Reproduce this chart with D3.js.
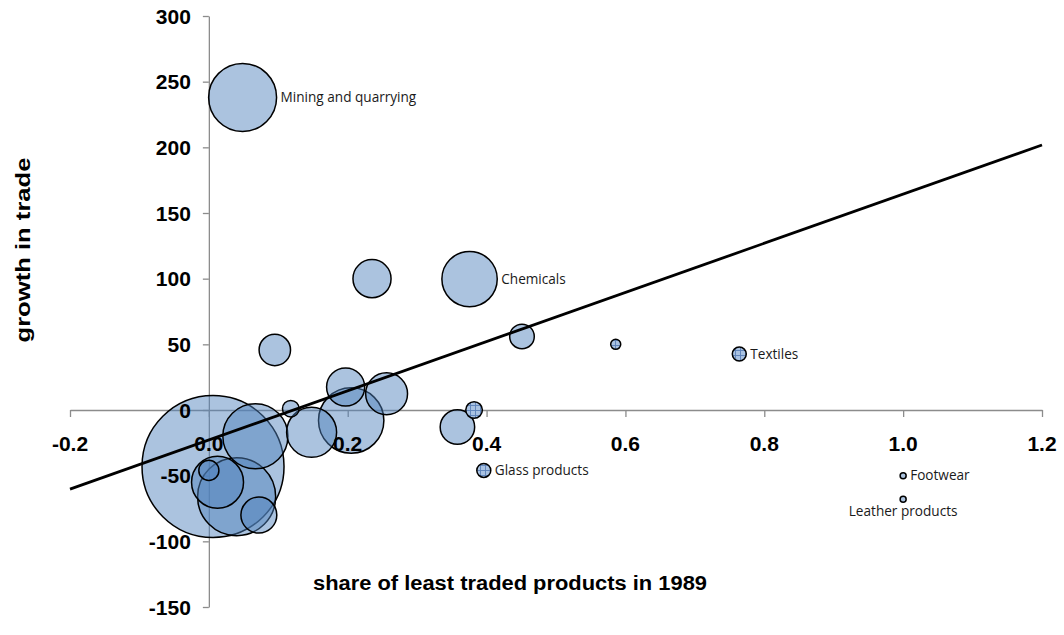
<!DOCTYPE html>
<html>
<head>
<meta charset="utf-8">
<script src="https://cdn.jsdelivr.net/npm/d3@7"></script>
<style>
  html, body { margin: 0; padding: 0; background: #fff; }
  svg { display: block; }
</style>
</head>
<body>
<svg id="chart" width="1064" height="635"></svg>
<script>
// ---- data ----
const shareX  = [0.0486, 0.235, 0.3755, 0.451, 0.586, 0.764, 0.095, 0.118, 0.197, 0.256, 0.205, 0.148, 0.382, 0.358, 0.396, 1.0, 1.0, 0.006, 0.067, 0.0, 0.0125, 0.040, 0.072];
const growthY = [238, 100, 99.7, 56, 50, 42.6, 45.7, 1, 17.5, 12.4, -8, -17, 0, -13, -46, -50, -68, -43, -20, -46, -55, -66, -80];
const sizes   = [22.9, 7.2, 15.2, 3.0, 0.5, 0.97, 4.9, 1.37, 7.2, 8.7, 21.2, 12.4, 1.37, 5.9, 0.97, 0.18, 0.18, 100, 21.0, 2.0, 13.4, 30.2, 6.4];
const hatched = [false, false, false, false, true, true, false, false, false, false, false, false, true, false, true, false, false, false, false, false, false, false, false];
const labels  = ["Mining and quarrying", "", "Chemicals", "", "", "Textiles", "", "", "", "", "", "", "", "", "Glass products", "Footwear", "Leather products", "", "", "", "", "", ""];
const labelPos = ["right", "", "right", "", "", "right", "", "", "", "", "", "", "", "", "right", "right", "below", "", "", "", "", "", ""];

const xTicks = [-0.2, 0.0, 0.2, 0.4, 0.6, 0.8, 1.0, 1.2];
const yTicks = [-150, -100, -50, 0, 50, 100, 150, 200, 250, 300];
const trendX = [-0.2, 1.2];
const trendY = [-60.2, 201.8];

const xTitle = "share of least traded products in 1989";
const yTitle = "growth in trade";

// ---- chart ----
const svg = d3.select("#chart");
const x = d3.scaleLinear().domain([-0.2, 1.2]).range([70, 1042]);
const y = d3.scaleLinear().domain([-150, 300]).range([607, 16]);
const r = d3.scaleSqrt().domain([0, 100]).range([0, 71]);

const defs = svg.append("defs");
const pat = defs.append("pattern")
  .attr("id", "hatch").attr("patternUnits", "userSpaceOnUse")
  .attr("width", 5).attr("height", 5);
pat.append("rect").attr("width", 5).attr("height", 5).attr("fill", "#a9c2e2");
pat.append("path").attr("d", "M0,0.5H5M0.5,0V5").attr("stroke", "#5b80b8").attr("stroke-width", 0.9);

// axes lines
const axisColor = "#8c8c8c";
const gx = svg.append("g").attr("transform", `translate(0,${y(0)})`)
  .call(d3.axisBottom(x).tickValues(xTicks).tickSize(7).tickSizeOuter(0).tickFormat(""));
gx.select(".domain").attr("stroke", axisColor).attr("stroke-width", 1.3);
gx.selectAll(".tick line").attr("stroke", axisColor).attr("stroke-width", 1.3);

const gy = svg.append("g").attr("transform", `translate(${x(0)},0)`)
  .call(d3.axisLeft(y).tickValues(yTicks).tickSize(6).tickSizeOuter(0).tickFormat(""));
gy.select(".domain").attr("stroke", axisColor).attr("stroke-width", 1.3);
gy.selectAll(".tick line").attr("stroke", axisColor).attr("stroke-width", 1.3);

// bubbles
const data = shareX.map((d, i) => ({x: d, y: growthY[i], s: sizes[i], h: hatched[i], label: labels[i], pos: labelPos[i]}));
const order = data.slice().sort((a, b) => b.s - a.s);
svg.append("g").selectAll("circle").data(order).join("circle")
  .attr("cx", d => x(d.x)).attr("cy", d => y(d.y)).attr("r", d => r(d.s))
  .attr("fill", d => d.h ? "url(#hatch)" : "rgb(79,129,189)")
  .attr("fill-opacity", d => d.h ? 1 : 0.48)
  .attr("stroke", "#000").attr("stroke-width", 1.5);

// trend line
svg.append("path")
  .datum(trendX.map((d, i) => [d, trendY[i]]))
  .attr("d", d3.line().x(d => x(d[0])).y(d => y(d[1])))
  .attr("stroke", "#000").attr("stroke-width", 2.8).attr("fill", "none");

// tick labels
const tickFont = "'Liberation Sans', Arial, sans-serif";
const fmt = d3.format(".1f");
svg.append("g").selectAll("text").data(xTicks).join("text")
  .attr("x", d => x(d)).attr("y", y(0) + 41)
  .attr("text-anchor", "middle")
  .attr("font-family", tickFont).attr("font-weight", "bold").attr("font-size", 21)
  .text(d => fmt(d).replace("\u2212", "-"));
svg.append("g").selectAll("text").data(yTicks).join("text")
  .attr("x", x(0) - 18).attr("y", d => y(d)).attr("dy", "0.36em")
  .attr("text-anchor", "end")
  .attr("font-family", tickFont).attr("font-weight", "bold").attr("font-size", 21)
  .text(d => String(d));

// data labels
const lab = data.filter(d => d.label);
svg.append("g").selectAll("text").data(lab).join("text")
  .attr("x", d => d.pos === "below" ? x(d.x) : x(d.x) + r(d.s) + 4)
  .attr("y", d => d.pos === "below" ? y(d.y) + 17 : y(d.y))
  .attr("dy", d => d.pos === "below" ? "0" : "0.35em")
  .attr("text-anchor", d => d.pos === "below" ? "middle" : "start")
  .attr("font-family", "'Open Sans', sans-serif").attr("font-size", 13.6).attr("fill", "#1a1a1a")
  .text(d => d.label);

// axis titles
svg.append("text")
  .attr("x", 510).attr("y", 590)
  .attr("text-anchor", "middle")
  .attr("font-family", tickFont).attr("font-weight", "bold").attr("font-size", 20)
  .attr("textLength", 394).attr("lengthAdjust", "spacingAndGlyphs")
  .text(xTitle);
svg.append("text")
  .attr("transform", "translate(30,250) rotate(-90)")
  .attr("text-anchor", "middle")
  .attr("font-family", tickFont).attr("font-weight", "bold").attr("font-size", 20)
  .attr("textLength", 185).attr("lengthAdjust", "spacingAndGlyphs")
  .text(yTitle);
</script>
</body>
</html>
